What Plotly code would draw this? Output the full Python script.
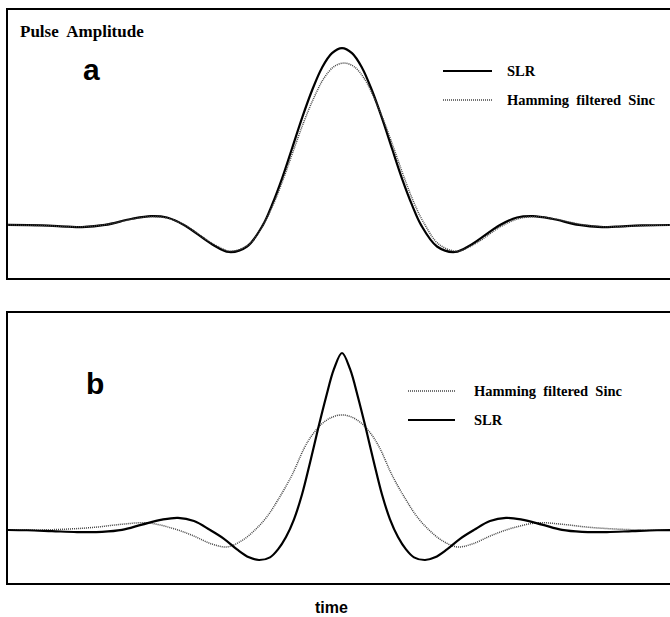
import plotly.graph_objects as go
from plotly.subplots import make_subplots

# ---- data (time in arbitrary units, amplitude normalised to SLR peak of panel a) ----
t_a_slr = [-3.4, -3.0, -2.74, -2.6, -2.37, -2.1, -1.91, -1.75, -1.58, -1.3, -1.13, -0.95, -0.79,
           -0.7, -0.6, -0.5, -0.4, -0.3, -0.2, -0.1, 0.0, 0.1, 0.2, 0.3, 0.4, 0.5, 0.6, 0.7,
           0.79, 0.95, 1.13, 1.3, 1.58, 1.75, 1.91, 2.1, 2.37, 2.6, 2.74, 3.0, 3.4]
a_slr = [0.0, -0.003, -0.01, -0.012, 0.0, 0.035, 0.05, 0.042, 0.0, -0.109, -0.153, -0.122, 0.0,
         0.113, 0.262, 0.432, 0.604, 0.76, 0.889, 0.971, 1.0, 0.971, 0.889, 0.76, 0.604, 0.432, 0.262, 0.113,
         0.0, -0.122, -0.153, -0.109, 0.0, 0.042, 0.05, 0.035, 0.0, -0.012, -0.01, -0.003, 0.0]

t_a_ham = [-3.38, -2.98, -2.72, -2.58, -2.35, -2.08, -1.89, -1.73, -1.56, -1.28, -1.11, -0.93, -0.78,
           -0.68, -0.58, -0.48, -0.38, -0.28, -0.18, -0.08, 0.02, 0.12, 0.22, 0.32, 0.42, 0.52, 0.62, 0.72,
           0.82, 0.97, 1.15, 1.32, 1.6, 1.77, 1.93, 2.12, 2.39, 2.62, 2.76, 3.02, 3.42]
a_ham = [0.0, -0.004, -0.01, -0.01, 0.003, 0.035, 0.047, 0.036, -0.005, -0.11, -0.148, -0.11, 0.01,
         0.125, 0.27, 0.43, 0.585, 0.72, 0.83, 0.895, 0.915, 0.895, 0.83, 0.72, 0.585, 0.43, 0.27, 0.125,
         0.01, -0.11, -0.148, -0.11, -0.005, 0.036, 0.047, 0.035, 0.003, -0.01, -0.01, -0.004, 0.0]

t_b_slr = [-3.4, -3.15, -2.9, -2.65, -2.4, -2.2, -2.0, -1.8, -1.64, -1.48, -1.32, -1.18, -1.05, -0.93,
           -0.83, -0.72, -0.64, -0.56, -0.48, -0.4, -0.32, -0.24, -0.16, -0.08, 0.0,
           0.08, 0.16, 0.24, 0.32, 0.4, 0.48, 0.56, 0.64, 0.72, 0.83, 0.93, 1.05, 1.18, 1.32,
           1.48, 1.64, 1.8, 2.0, 2.2, 2.4, 2.65, 2.9, 3.15, 3.4]
b_slr = [0.0, -0.002, -0.007, -0.012, -0.011, 0.0, 0.03, 0.058, 0.068, 0.05, 0.0, -0.05, -0.11, -0.155,
         -0.17, -0.155, -0.11, -0.04, 0.06, 0.2, 0.38, 0.57, 0.75, 0.91, 1.0,
         0.91, 0.75, 0.57, 0.38, 0.2, 0.06, -0.04, -0.11, -0.155, -0.17, -0.155, -0.11, -0.05, 0.0,
         0.05, 0.068, 0.058, 0.03, 0.0, -0.011, -0.012, -0.007, -0.002, 0.0]

t_b_ham = [-3.4, -3.0, -2.7, -2.45, -2.2, -1.95, -1.7, -1.5, -1.3, -1.15, -1.0, -0.87, -0.75, -0.64,
           -0.5, -0.38, -0.3, -0.2, -0.1, 0.0, 0.1, 0.2, 0.3, 0.38, 0.5, 0.64, 0.75, 0.87, 1.0,
           1.15, 1.3, 1.5, 1.7, 1.95, 2.2, 2.45, 2.7, 3.0, 3.4]
b_ham = [0.0, 0.0, 0.006, 0.016, 0.032, 0.04, 0.01, -0.03, -0.08, -0.096, -0.06, 0.0, 0.075, 0.17,
         0.31, 0.46, 0.535, 0.6, 0.637, 0.65, 0.637, 0.6, 0.535, 0.46, 0.31, 0.17, 0.075, 0.0, -0.06,
         -0.096, -0.08, -0.03, 0.01, 0.04, 0.032, 0.016, 0.006, 0.0, 0.0]

W, H = 670, 617
def px(x):
    return x / W
def py(y):
    return 1 - y / H

fig = make_subplots(rows=2, cols=1)

slr_style = dict(color="black", width=2.2, shape="spline", smoothing=1.0)
ham_style = dict(color="#444444", width=1.5, dash="1px,1px", shape="spline", smoothing=1.0)

fig.add_trace(go.Scatter(x=t_a_slr, y=a_slr, mode="lines", line=slr_style, name="SLR"), row=1, col=1)
fig.add_trace(go.Scatter(x=t_a_ham, y=a_ham, mode="lines", line=ham_style, name="Hamming filtered Sinc"), row=1, col=1)
fig.add_trace(go.Scatter(x=t_b_ham, y=b_ham, mode="lines", line=ham_style, name="Hamming filtered Sinc"), row=2, col=1)
fig.add_trace(go.Scatter(x=t_b_slr, y=b_slr, mode="lines", line=slr_style, name="SLR"), row=2, col=1)

xr = [-3.34, 3.28]
ax_common = dict(showgrid=False, zeroline=False, showticklabels=False, ticks="",
                 showline=True, linecolor="black", linewidth=2)
fig.update_xaxes(range=xr, mirror=True, domain=[px(8), 1.0], **ax_common)
fig.update_yaxes(mirror=False, **ax_common)
fig.update_yaxes(range=[-0.30, 1.215], domain=[py(278), py(10)], row=1, col=1)
fig.update_yaxes(range=[-0.30, 1.226], domain=[py(583), py(313)], row=2, col=1)

serif = "Liberation Serif, Times New Roman, serif"
sans = "Liberation Sans, Arial, sans-serif"

ann = []
ann.append(dict(text="<b>Pulse\u00a0 Amplitude</b>", x=px(18), y=py(31), xanchor="left", yanchor="middle",
                font=dict(family=serif, size=17, color="black")))
ann.append(dict(text="<b>a</b>", x=px(91.5), y=py(70), xanchor="center", yanchor="middle",
                font=dict(family=sans, size=30, color="black")))
ann.append(dict(text="<b>b</b>", x=px(94.5), y=py(383), xanchor="center", yanchor="middle",
                font=dict(family=sans, size=30, color="black")))
ann.append(dict(text="<b>time</b>", x=px(331), y=py(607), xanchor="center", yanchor="middle",
                font=dict(family=sans, size=16, color="black")))
# legends
leg = [("SLR", 443, 492, 71, 505, "solid"), ("Hamming\u00a0 filtered\u00a0 Sinc", 443, 492, 100, 505, "dot"),
       ("Hamming\u00a0 filtered\u00a0 Sinc", 408, 455, 391, 472, "dot"), ("SLR", 408, 455, 420, 472, "solid")]
shapes = []
for txt, x0, x1, yy, xt, st in leg:
    if st == "solid":
        ln = dict(color="black", width=1.8)
    else:
        ln = dict(color="#444444", width=1.5, dash="1px,1px")
    shapes.append(dict(type="line", xref="paper", yref="paper", x0=px(x0), x1=px(x1), y0=py(yy), y1=py(yy), line=ln))
    ann.append(dict(text="<b>" + txt + "</b>", x=px(xt), y=py(yy), xanchor="left", yanchor="middle",
                    font=dict(family=serif, size=14.5, color="black")))
for a in ann:
    a.update(xref="paper", yref="paper", showarrow=False)

fig.update_layout(width=W, height=H, margin=dict(l=0, r=0, t=0, b=0),
                  paper_bgcolor="white", plot_bgcolor="white", showlegend=False,
                  annotations=ann, shapes=shapes)
fig.write_html("out.html")
